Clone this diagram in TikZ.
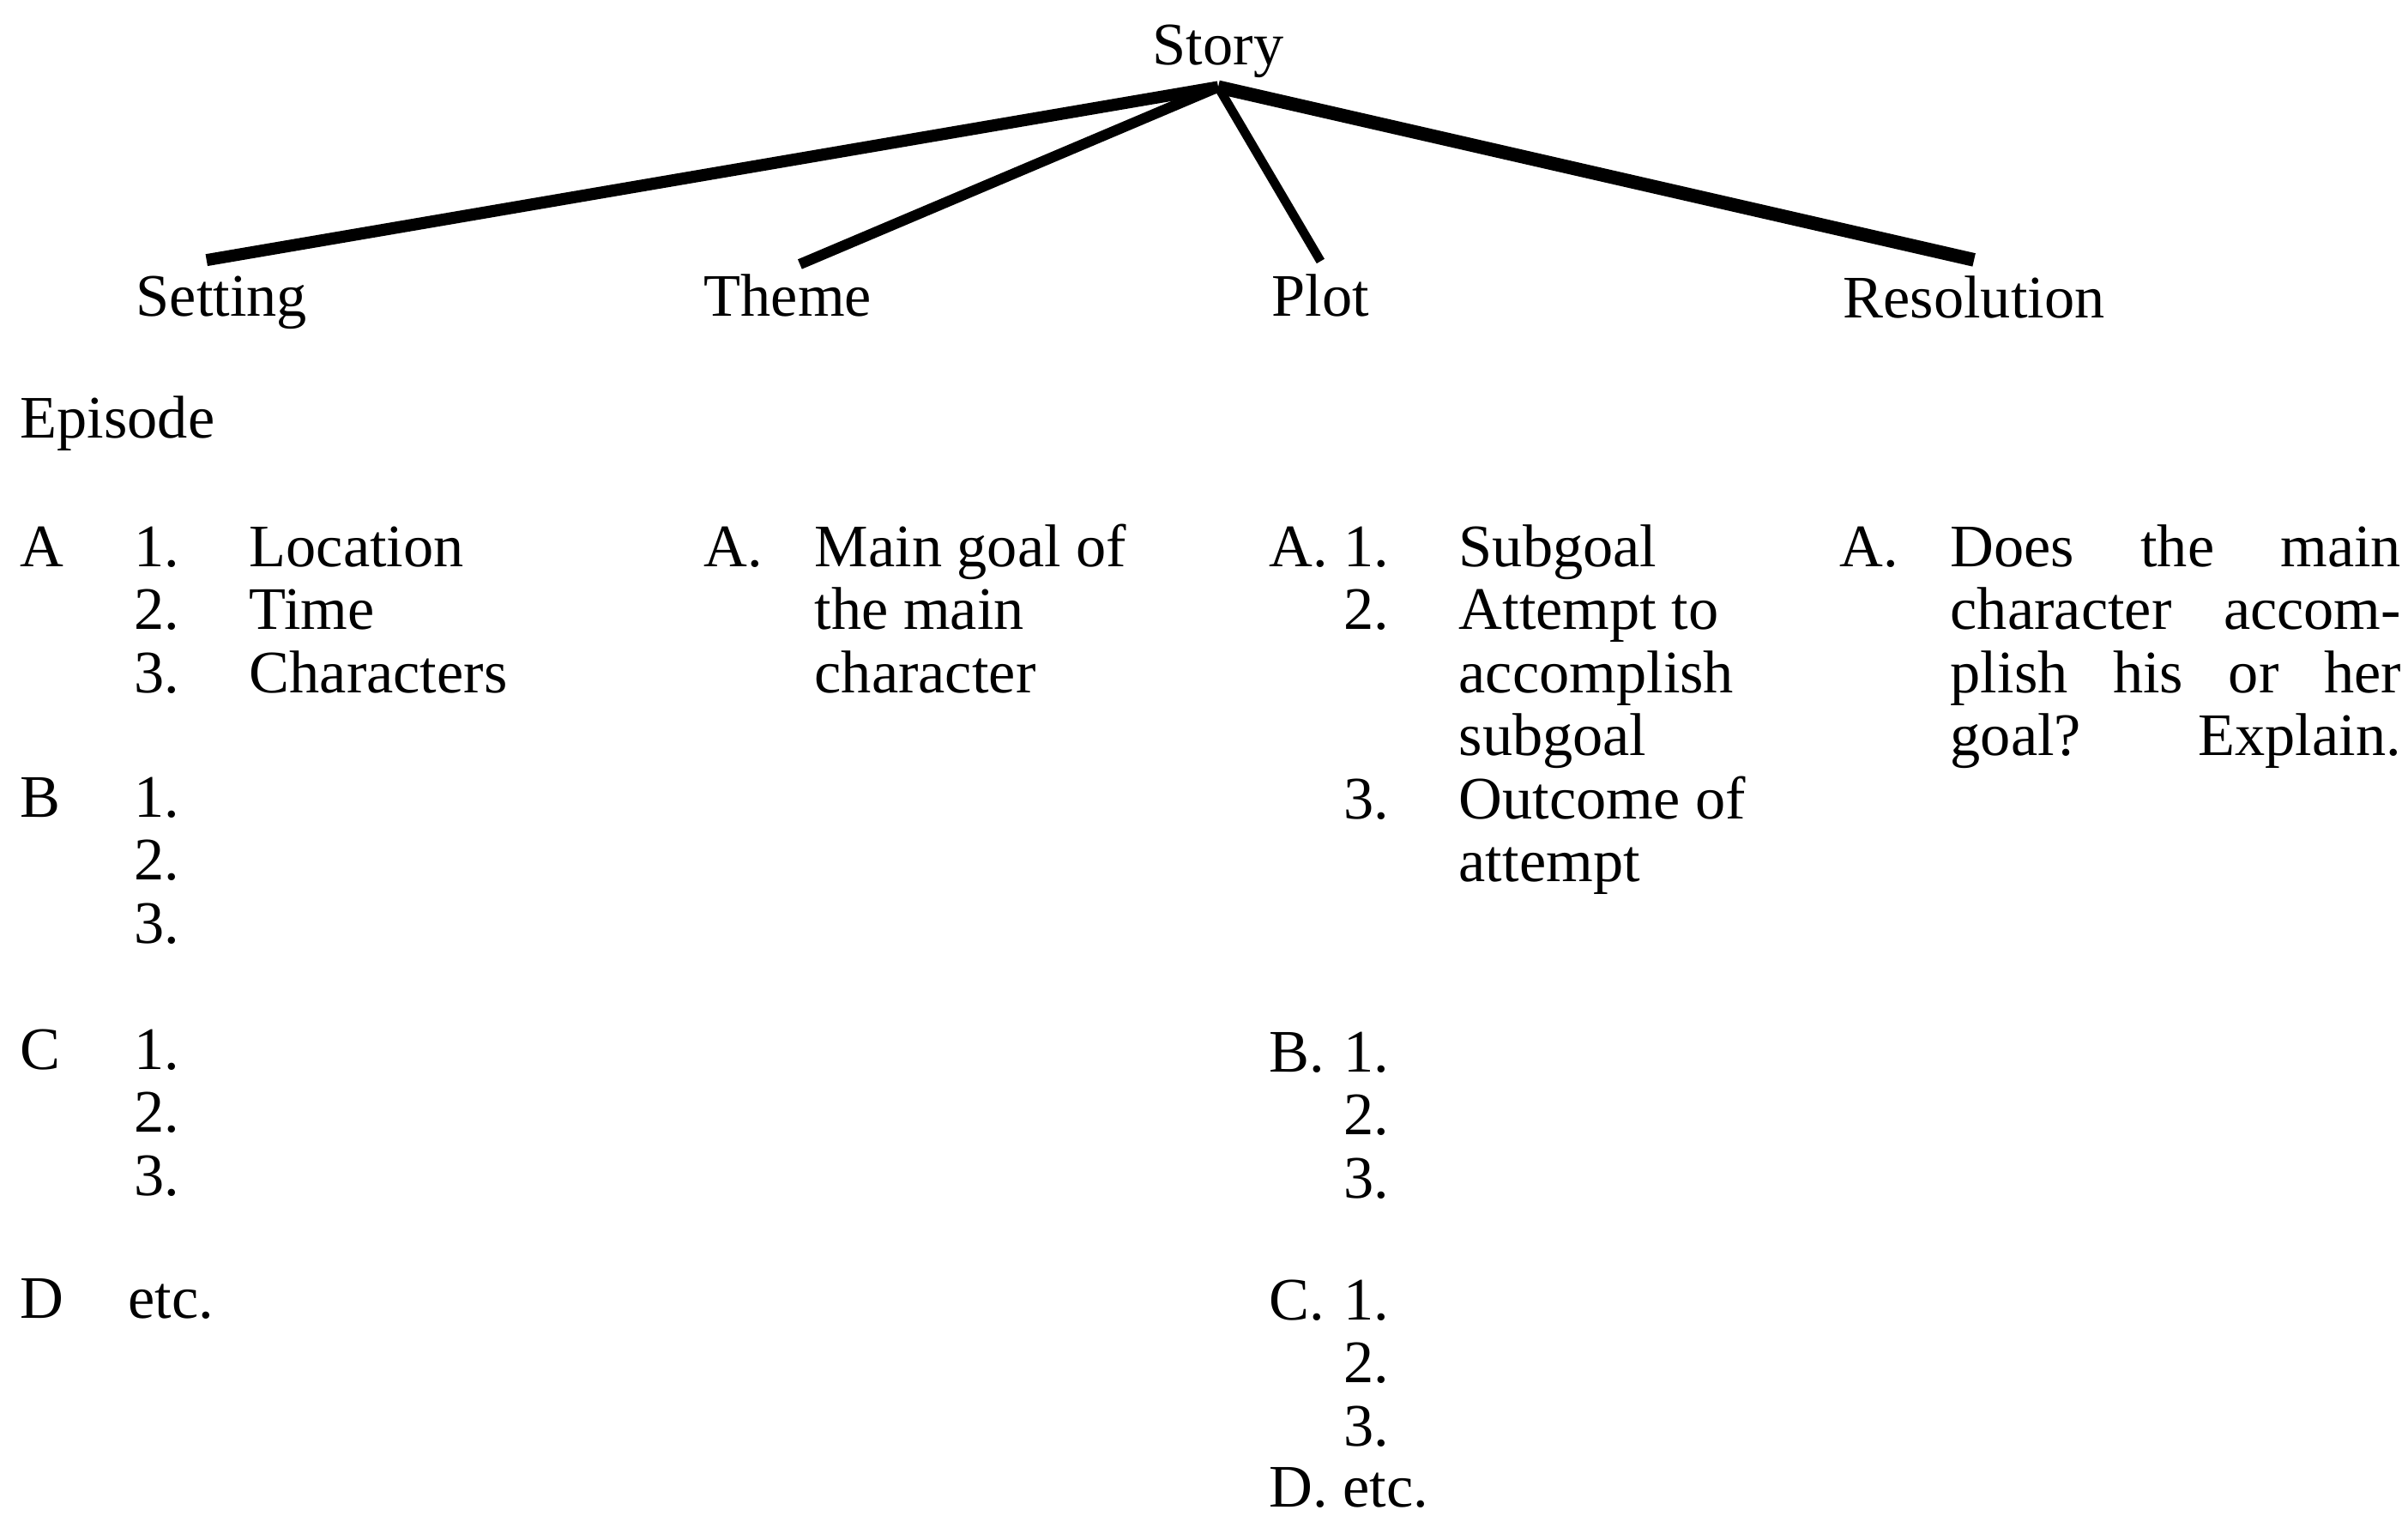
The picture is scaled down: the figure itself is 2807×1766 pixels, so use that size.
\documentclass[tikz,border=0pt]{standalone}
\usepackage{fontspec}
\setmainfont{Liberation Serif}
\usepackage{tikz}
\newlength{\reswd}
\setlength{\reswd}{5.25cm}
\newcommand{\stack}[1]{\begin{tabular}[t]{@{}l@{}}#1\end{tabular}}
\newcommand{\jline}[1]{\makebox[\reswd][s]{#1}}

\begin{document}
\begin{tikzpicture}[x=.01cm,y=-.01cm,font={\fontsize{20}{20.9}\selectfont},
  every node/.style={inner sep=0pt,anchor=base west},
  branch/.style={line width=#1}]
  \useasboundingbox (0,0) rectangle (2807,1766);
  % tree
  \node[anchor=base] (story) at (1420,75) {Story};
  \node (setting) at (158,368) {Setting};
  \node (theme) at (820,368) {Theme};
  \node (plot) at (1482,368) {Plot};
  \node (resolution) at (2148,370) {Resolution};
  \coordinate (apex) at ([yshift=-3pt]story.south);
  \draw[branch=4pt] (apex) -- ([xshift=-5pt,yshift=5pt]setting.north);
  \draw[branch=3.5pt] (apex) -- ([xshift=4pt,yshift=3pt]theme.north);
  \draw[branch=3pt] (apex) -- ([yshift=4pt]plot.north);
  \draw[branch=4.5pt] (apex) -- ([yshift=5pt]resolution.north);
  \node (episode) at (23,510) {Episode};
  % setting column
  \node (setA) at (23,660) {A};
  \node (setAnum) at (156,660) {\stack{1.\\2.\\3.}};
  \node (setAtxt) at (290,660) {\stack{Location\\Time\\Characters}};
  \foreach \l/\y in {B/952,C/1246}{
    \node (set\l) at (23,\y) {\l};
    \node (set\l num) at (156,\y) {\stack{1.\\2.\\3.}};}
  \node (setD) at (23,1536) {D};
  \node (setDetc) at (149,1536) {etc.};
  % theme column
  \node (themeA) at (820,660) {A.};
  \node (themeAtxt) at (949,660) {\stack{Main goal of\\the main\\character}};
  % plot column
  \node (plotA) at (1479,660) {A.};
  \node (plotAnum) at (1566,660) {\stack{1.\\2.\\ \\ \\3.}};
  \node (plotAtxt) at (1700,660) {\stack{Subgoal\\Attempt to\\accomplish\\subgoal\\Outcome of\\attempt}};
  \foreach \l/\y in {B/1249,C/1538}{
    \node (plot\l) at (1479,\y) {\l.};
    \node (plot\l num) at (1566,\y) {\stack{1.\\2.\\3.}};}
  \node (plotD) at (1479,1756) {D. etc.};
  % resolution column
  \node (resA) at (2144,660) {A.};
  \node (resAtxt) at (2273,660) {\stack{\jline{Does the main}\\\jline{character accom-}\\\jline{plish his or her}\\\jline{goal? Explain.}}};
\end{tikzpicture}
\end{document}
